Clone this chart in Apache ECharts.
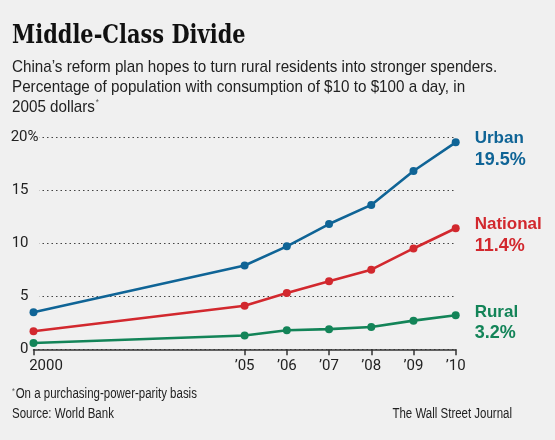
<!DOCTYPE html>
<html>
<head>
<meta charset="utf-8">
<script src="https://cdn.jsdelivr.net/npm/echarts@6/dist/echarts.min.js"></script>
<style>
html,body{margin:0;padding:0;background:#f0f0f0;}
#chart{width:555px;height:440px;}
</style>
</head>
<body>
<div id="chart"></div>
<script>
// ---- data ----
const years = [2000, 2005, 2006, 2007, 2008, 2009, 2010];
const xTickLabels = ['2000', '\u201905', '\u201906', '\u201907', '\u201908', '\u201909', '\u201910'];
const yTicks = [0, 5, 10, 15, 20];
const seriesNames = ['Urban', 'National', 'Rural'];
const urban = [3.5, 7.9, 9.7, 11.8, 13.6, 16.8, 19.5];
const national = [1.7, 4.1, 5.3, 6.4, 7.5, 9.5, 11.4];
const rural = [0.6, 1.3, 1.8, 1.9, 2.1, 2.7, 3.2];

const titleText = 'Middle-Class Divide';
const subLines = [
  'China\u2019s reform plan hopes to turn rural residents into stronger spenders.',
  'Percentage of population with consumption of $10 to $100 a day, in',
  '2005 dollars'
];
const footnote = 'On a purchasing-power-parity basis';
const sourceText = 'Source: World Bank';
const creditText = 'The Wall Street Journal';

const colors = ['#0f6496', '#d2282e', '#138458'];
const seriesValues = [urban, national, rural];
const SANS = '"Liberation Sans", Arial, sans-serif';
const SERIF = '"DejaVu Serif", serif';

const chart = echarts.init(document.getElementById('chart'), null, {renderer: 'canvas'});

function pairs(vals) { return years.map((y, i) => [y, vals[i]]); }

const series = seriesNames.map((name, k) => ({
  name: name,
  type: 'line',
  data: pairs(seriesValues[k]),
  symbol: 'circle',
  symbolSize: 8,
  lineStyle: {color: colors[k], width: 2.6},
  itemStyle: {color: colors[k]},
  z: 3 + (2 - k),
  endLabel: {
    show: true,
    distance: 19,
    offset: [0, 7],
    formatter: p => '{n|' + p.seriesName + '}\n{v|' + p.value[1] + '%}',
    rich: {
      n: {fontFamily: SANS, fontWeight: 'bold', fontSize: 17, color: colors[k], lineHeight: 21},
      v: {fontFamily: SANS, fontWeight: 'bold', fontSize: 18, color: colors[k], lineHeight: 21}
    }
  },
  animation: false
}));

function txt(x, y, text, size, family, scaleX, extra) {
  return {
    type: 'text', x: x, y: y, scaleX: scaleX, z: 10,
    style: Object.assign({text: text, fontSize: size, fontFamily: family, fill: '#222',
      verticalAlign: 'top', align: 'left'}, extra || {})
  };
}

chart.setOption({
  backgroundColor: '#f0f0f0',
  animation: false,
  graphic: [
    txt(12, 23, titleText, 26.5, SERIF, 0.79, {fontWeight: 'bold', fill: '#111'}),
    txt(12, 57, subLines[0] + '\n' + subLines[1] + '\n' + subLines[2] + '{s|*}', 17, SANS, 0.895,
      {lineHeight: 20, rich: {s: {fontSize: 9, fill: '#555', fontFamily: SANS, lineHeight: 20, padding: [0, 0, 8, 1]}}}),
    txt(12, 387, '{s|*}' + footnote, 14, SANS, 0.82,
      {rich: {s: {fontSize: 9, fill: '#555', fontFamily: SANS, padding: [0, 1, 6, 0]}}}),
    txt(12, 407, sourceText, 14, SANS, 0.82),
    txt(512, 407, creditText, 14, SANS, 0.82, {align: 'right'})
  ],
  grid: {left: 33.5, right: 99.3, top: 137, bottom: 90.7, containLabel: false},
  xAxis: {
    type: 'value', min: years[0], max: years[years.length - 1],
    axisLine: {show: true, lineStyle: {color: '#333', width: 1.5}},
    axisTick: {show: true, customValues: years, length: 6, lineStyle: {color: '#333', width: 1.5}},
    axisLabel: {customValues: years, margin: 9, color: '#222', fontFamily: 'Roboto, sans-serif', fontSize: 15,
      alignMinLabel: 'center',
      formatter: v => v === years[0] ? '{f|' + xTickLabels[0] + '}' : xTickLabels[years.indexOf(v)],
      rich: {f: {fontFamily: 'Roboto, sans-serif', fontSize: 15, color: '#222', padding: [0, 0, 0, 25]}}},
    splitLine: {show: false}
  },
  yAxis: {
    type: 'value', min: yTicks[0], max: yTicks[yTicks.length - 1], interval: 5,
    axisLine: {show: false}, axisTick: {show: false},
    axisLabel: {
      margin: -6, color: '#222', fontFamily: 'Roboto, sans-serif', fontSize: 15,
      formatter: v => v === 20 ? '{t|' + v + '%}' : (v === 0 ? '{z|' + v + '}' : '{n|' + v + '}'),
      rich: {
        t: {fontFamily: 'Roboto, sans-serif', fontSize: 15, color: '#222', backgroundColor: '#f0f0f0', padding: [0, 1, 0, 0]},
        n: {fontFamily: 'Roboto, sans-serif', fontSize: 15, color: '#222', backgroundColor: '#f0f0f0', padding: [0, 11, 0, 0]},
        z: {fontFamily: 'Roboto, sans-serif', fontSize: 15, color: '#222', padding: [0, 11, 0, 0]}
      }
    },
    splitLine: {show: true, lineStyle: {color: '#444', type: [1.5, 3], width: 1}}
  },
  series: series
});
</script>
</body>
</html>
